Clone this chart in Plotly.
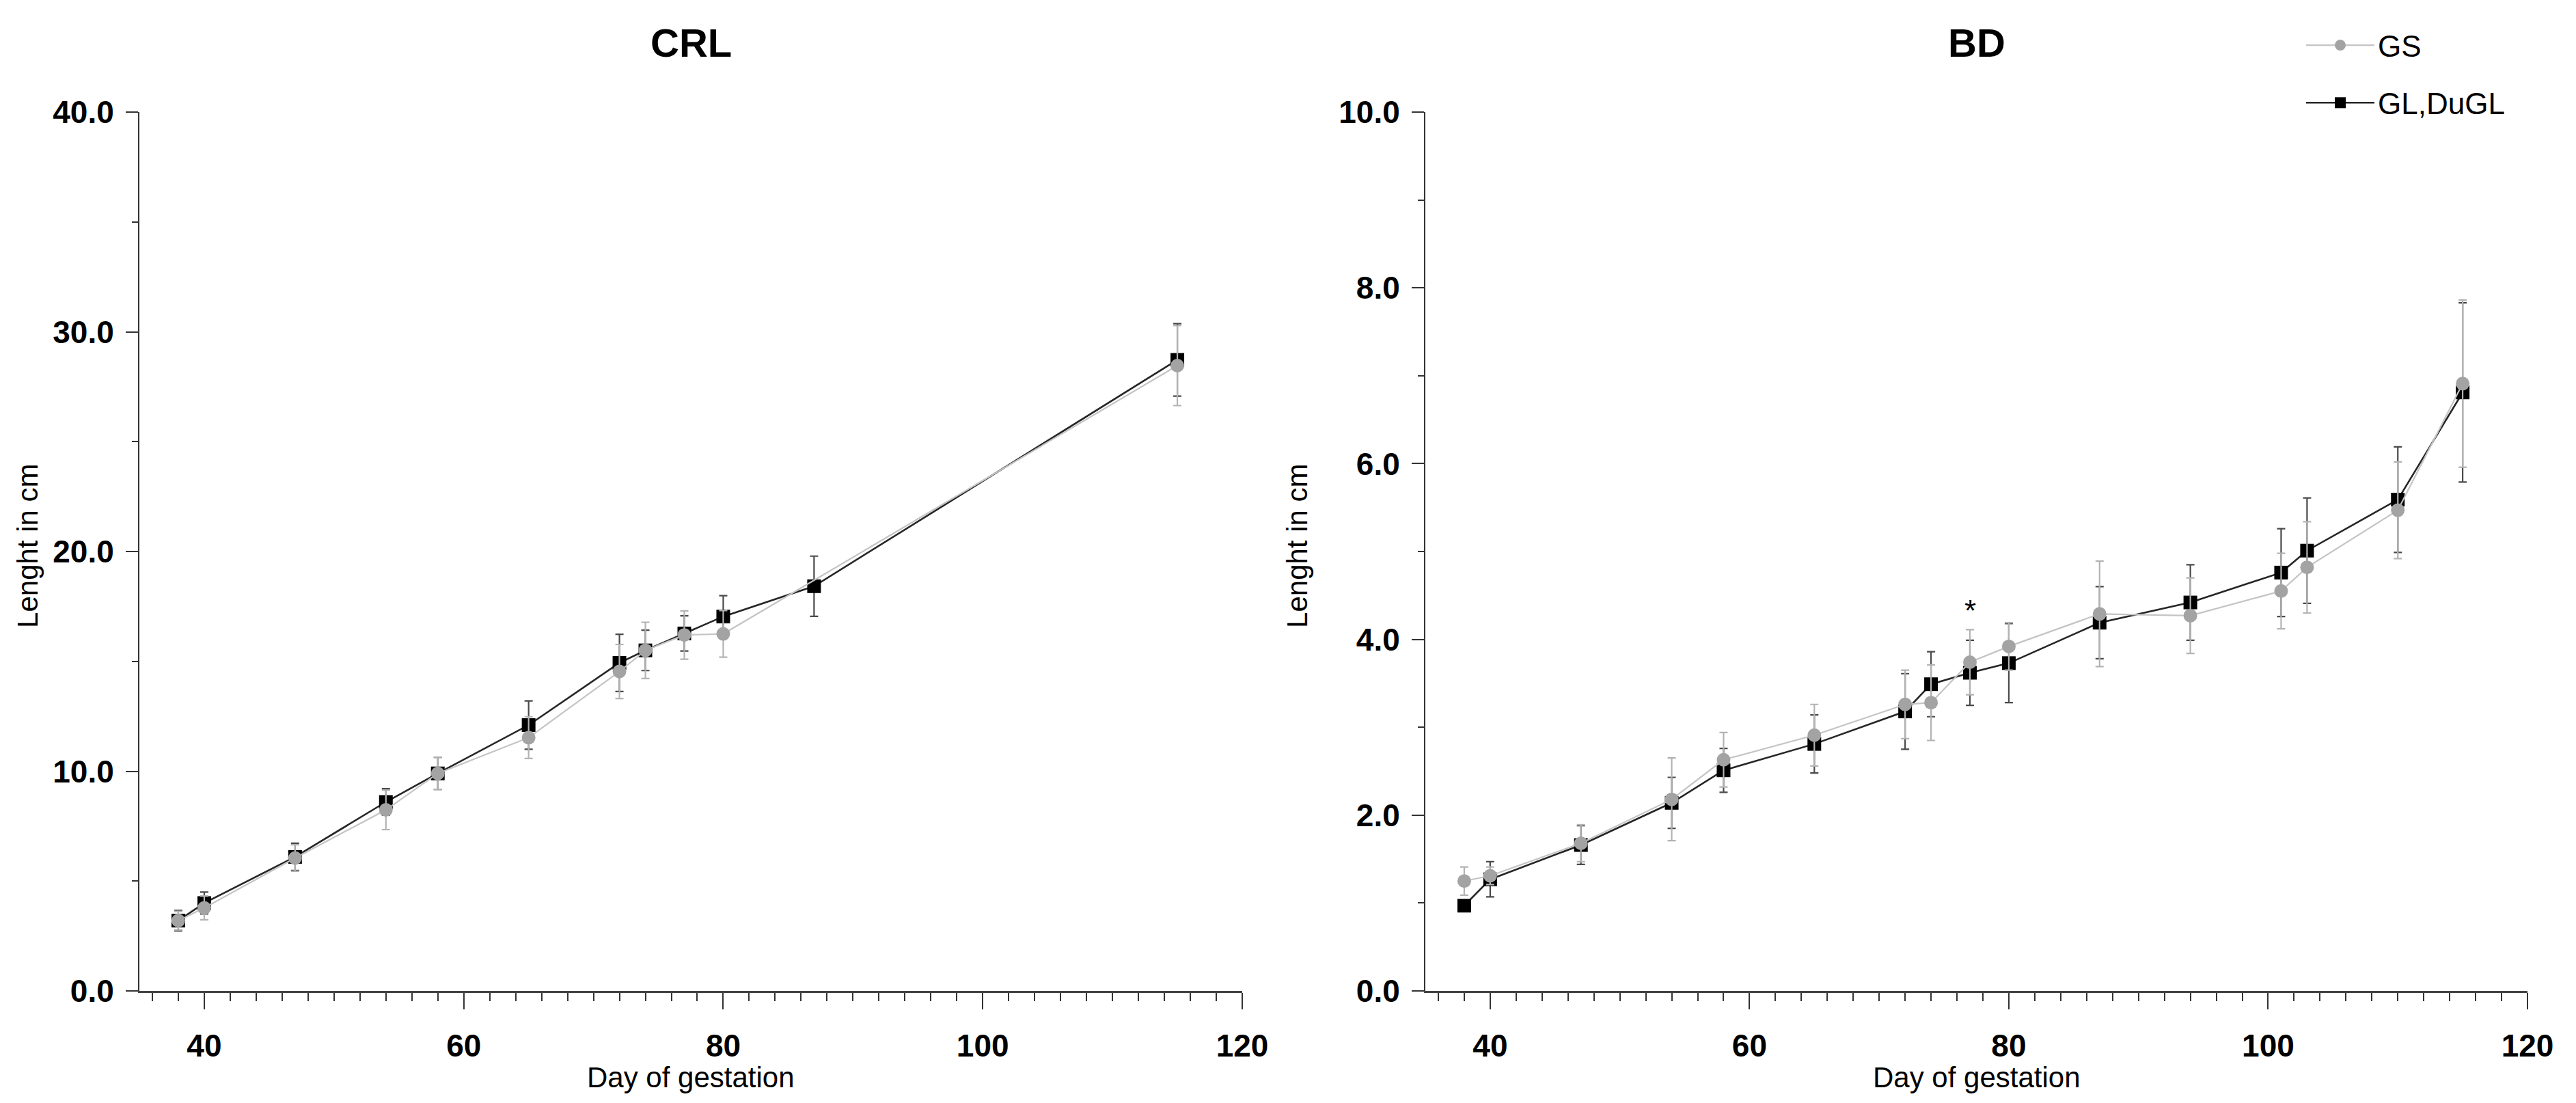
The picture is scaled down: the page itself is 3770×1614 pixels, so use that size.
import plotly.graph_objects as go

W, H = 3770, 1614

# ---------------- data ----------------
# CRL (crown-rump length)
crl_gs_days = [38, 40, 47, 54, 58, 65, 72, 74, 77, 80, 115]
crl_gs_mean = [3.2, 3.78, 6.05, 8.24, 9.9, 11.53, 14.54, 15.5, 16.2, 16.25, 28.46]
crl_gs_sd = [0.42, 0.54, 0.6, 0.9, 0.73, 0.95, 1.23, 1.28, 1.1, 1.06, 1.82]

crl_gl_days = [38, 40, 47, 54, 58, 65, 72, 74, 77, 80, 87, 115]
crl_gl_mean = [3.2, 4.0, 6.1, 8.6, 9.9, 12.1, 14.93, 15.5, 16.27, 17.04, 18.42, 28.72]
crl_gl_sd = [0.47, 0.5, 0.62, 0.6, 0.73, 1.1, 1.3, 0.92, 0.8, 0.95, 1.37, 1.65]

# BD
bd_days = [38, 40, 47, 54, 58, 65, 72, 74, 77, 80, 87, 94, 101, 103, 110, 115]
bd_gs_mean = [1.25, 1.31, 1.68, 2.18, 2.63, 2.91, 3.26, 3.28, 3.74, 3.92, 4.29, 4.27, 4.55, 4.82, 5.47, 6.91]
bd_gs_sd = [0.16, 0.1, 0.21, 0.47, 0.31, 0.35, 0.39, 0.43, 0.37, 0.27, 0.6, 0.43, 0.43, 0.52, 0.55, 0.95]
bd_gl_mean = [0.97, 1.27, 1.66, 2.14, 2.51, 2.81, 3.18, 3.49, 3.62, 3.73, 4.19, 4.42, 4.76, 5.01, 5.59, 6.81]
bd_gl_sd = [0.03, 0.2, 0.22, 0.29, 0.25, 0.33, 0.43, 0.37, 0.37, 0.45, 0.41, 0.43, 0.5, 0.6, 0.6, 1.02]

bd_sig_days = [77]  # significant difference marker (*)

series_names = ["GS", "GL,DuGL"]
panel_titles = ["CRL", "BD"]
x_title = "Day of gestation"
y_title = "Lenght in cm"

# ---------------- styles ----------------
FONT = "Liberation Sans, Arial, sans-serif"
GS_MARK = "#a3a3a3"
GS_LINE = "#c4c4c4"
GS_ERR = "#b3b3b3"
GL_MARK = "#000000"
GL_LINE = "#262626"
GL_ERR = "#4a4a4a"
AX = "#333333"


def gs_trace(x, y, e, xa, ya, show):
    return go.Scatter(
        x=x, y=y, name=series_names[0], xaxis=xa, yaxis=ya,
        mode="lines+markers", showlegend=show, legendgroup="gs",
        legendrank=1,
        line=dict(color=GS_LINE, width=2.2),
        marker=dict(symbol="circle", size=20, color=GS_MARK),
        error_y=dict(type="data", array=e, visible=True, color=GS_ERR,
                     thickness=2.2, width=6),
    )


def gl_trace(x, y, e, xa, ya, show):
    return go.Scatter(
        x=x, y=y, name=series_names[1], xaxis=xa, yaxis=ya,
        mode="lines+markers", showlegend=show, legendgroup="gl",
        legendrank=2,
        line=dict(color=GL_LINE, width=2.6),
        marker=dict(symbol="square", size=20, color=GL_MARK),
        error_y=dict(type="data", array=e, visible=True, color=GL_ERR,
                     thickness=2.2, width=6),
    )


fig = go.Figure()
# draw GL first so the GS circles sit on top
fig.add_trace(gl_trace(crl_gl_days, crl_gl_mean, crl_gl_sd, "x", "y", False))
fig.add_trace(gs_trace(crl_gs_days, crl_gs_mean, crl_gs_sd, "x", "y", False))
fig.add_trace(gl_trace(bd_days, bd_gl_mean, bd_gl_sd, "x2", "y2", True))
fig.add_trace(gs_trace(bd_days, bd_gs_mean, bd_gs_sd, "x2", "y2", True))

tickfont = dict(family=FONT, size=46, color="#000000", weight="bold")


def xaxis(domain, anchor):
    return dict(
        domain=domain, anchor=anchor, range=[35, 120], automargin=False,
        tickmode="linear", tick0=0, dtick=20,
        ticks="outside", ticklen=24, tickwidth=2, tickcolor=AX,
        minor=dict(ticks="outside", dtick=2, tick0=0, ticklen=12,
                   tickwidth=2, tickcolor=AX, showgrid=False),
        showline=True, linecolor="#444444", linewidth=3,
        showgrid=False, zeroline=False,
        tickfont=tickfont, ticklabelstandoff=14,
    )


def yaxis(domain, anchor, top, step):
    return dict(
        domain=domain, anchor=anchor, range=[0, top], automargin=False,
        tickmode="linear", tick0=0, dtick=step, tickformat=".1f",
        ticks="outside", ticklen=18, tickwidth=2, tickcolor=AX,
        minor=dict(ticks="outside", dtick=step / 2, tick0=0, ticklen=9,
                   tickwidth=2, tickcolor=AX, showgrid=False),
        showline=True, linecolor=AX, linewidth=2,
        showgrid=False, zeroline=False,
        tickfont=tickfont, ticklabelstandoff=8,
    )


ydom = [(H - 1450) / H, (H - 164) / H]
x1dom = [204 / W, 1818 / W]
x2dom = [2086 / W, 3699 / W]

fig.update_layout(
    width=W, height=H,
    margin=dict(l=0, r=0, t=0, b=0, autoexpand=False),
    paper_bgcolor="white", plot_bgcolor="white",
    font=dict(family=FONT, color="#000000"),
    xaxis=xaxis(x1dom, "y"),
    yaxis=yaxis(ydom, "x", 40, 10),
    xaxis2=xaxis(x2dom, "y2"),
    yaxis2=yaxis(ydom, "x2", 10, 2),
    showlegend=True,
    legend=dict(
        x=3370 / W, y=1 - 31 / H, xanchor="left", yanchor="top",
        font=dict(family=FONT, size=44, color="#000000"),
        bgcolor="rgba(0,0,0,0)", borderwidth=0,
        traceorder="grouped", tracegroupgap=24, itemwidth=100,
    ),
)

annotations = []
for title, dom in zip(panel_titles, [x1dom, x2dom]):
    annotations.append(dict(
        text=title, xref="paper", yref="paper",
        x=(dom[0] + dom[1]) / 2, y=1 - 63 / H,
        xanchor="center", yanchor="middle", showarrow=False,
        font=dict(family=FONT, size=58, color="#000000", weight="bold"),
    ))
    annotations.append(dict(
        text=x_title, xref="paper", yref="paper",
        x=(dom[0] + dom[1]) / 2, y=1 - 1576 / H,
        xanchor="center", yanchor="middle", showarrow=False,
        font=dict(family=FONT, size=42, color="#000000"),
    ))
for xpix in [41, 1899]:
    annotations.append(dict(
        text=y_title, xref="paper", yref="paper",
        x=xpix / W, y=0.505, textangle=-90,
        xanchor="center", yanchor="middle", showarrow=False,
        font=dict(family=FONT, size=42, color="#000000"),
    ))
for d in bd_sig_days:
    i = bd_days.index(d)
    annotations.append(dict(
        text="*", xref="x2", yref="y2",
        x=d, y=bd_gs_mean[i] + bd_gs_sd[i], yshift=28,
        xanchor="center", yanchor="middle", showarrow=False,
        font=dict(family=FONT, size=44, color="#000000"),
    ))

fig.update_layout(annotations=annotations)

fig.write_html("out.html")
